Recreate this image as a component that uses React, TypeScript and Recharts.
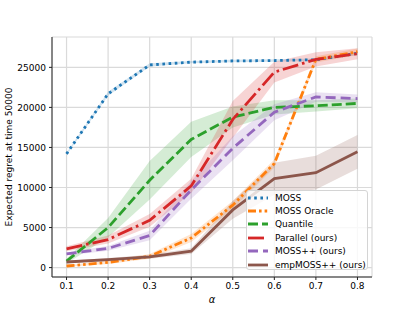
import {
  ComposedChart, Line, Area, XAxis, YAxis, CartesianGrid, Legend,
} from 'recharts';

const alphas = [0.1, 0.2, 0.3, 0.4, 0.5, 0.6, 0.7, 0.8];
const xTicks = [0.1, 0.2, 0.3, 0.4, 0.5, 0.6, 0.7, 0.8];
const yTicks = [0, 5000, 10000, 15000, 20000, 25000];

const moss = [14200, 21700, 25300, 25650, 25800, 25850, 25950, 26750];
const mossOracle = [200, 650, 1400, 3700, 7800, 13000, 26000, 26950];
const quantile = [800, 5000, 10900, 16000, 18800, 20000, 20200, 20500];
const parallel = [2350, 3500, 5900, 10200, 18500, 24400, 26000, 26700];
const mossPP = [1700, 2400, 4000, 9700, 14900, 19400, 21300, 21100];
const empMossPP = [700, 1000, 1350, 2050, 7200, 11100, 11850, 14450];

// half widths of the shaded regions
const mossBand = [150, 250, 200, 150, 150, 150, 150, 200];
const oracleBand = [100, 200, 300, 500, 500, 500, 400, 400];
const quantileBand = [300, 1200, 2400, 2200, 1300, 900, 700, 600];
const parallelBand = [300, 500, 800, 900, 2300, 1300, 900, 700];
const mossPPBand = [200, 300, 600, 1100, 1500, 1000, 600, 500];
const empBand = [150, 200, 250, 350, 1100, 2000, 2100, 2100];

const series = [
  { key: 'moss', name: 'MOSS', values: moss, band: mossBand, color: '#1f77b4', dash: '2.6 3.6' },
  { key: 'oracle', name: 'MOSS Oracle', values: mossOracle, band: oracleBand, color: '#ff7f0e', dash: '8 3 2.6 3 2.6 3' },
  { key: 'quantile', name: 'Quantile', values: quantile, band: quantileBand, color: '#2ca02c', dash: '10 4' },
  { key: 'parallel', name: 'Parallel (ours)', values: parallel, band: parallelBand, color: '#d62728', dash: '16 4 2.6 4' },
  { key: 'mosspp', name: 'MOSS++ (ours)', values: mossPP, band: mossPPBand, color: '#9467bd', dash: '10 5' },
  { key: 'emp', name: 'empMOSS++ (ours)', values: empMossPP, band: empBand, color: '#8c564b', dash: undefined },
];

const data = alphas.map((a, i) => {
  const row: Record<string, number | number[]> = { alpha: a };
  series.forEach((s) => {
    row[s.key] = s.values[i];
    row[s.key + 'Band'] = [s.values[i] - s.band[i], s.values[i] + s.band[i]];
  });
  return row;
});

const FONT = 'DejaVu Sans, sans-serif';

function LegendBox() {
  return (
    <div
      style={{
        width: 122, height: 80, background: 'rgba(255,255,255,0.8)',
        border: '1px solid #d4d4d4', borderRadius: 3, boxSizing: 'border-box',
        fontFamily: FONT, fontSize: 9, color: '#000',
      }}
    >
      {series.map((s) => (
        <div key={s.key} style={{ height: 13.4, display: 'flex', alignItems: 'center' }}>
          <svg width={28} height={8} style={{ flex: 'none' }}>
            <line
              x1={1} y1={4} x2={21} y2={4}
              stroke={s.color} strokeWidth={2.8} strokeDasharray={s.dash}
            />
          </svg>
          <span>{s.name}</span>
        </div>
      ))}
    </div>
  );
}

export default function App() {
  const tick = { fontSize: 9, fill: '#000', fontFamily: FONT };
  return (
    <div style={{ position: 'absolute', left: 0, top: 0, width: 415, height: 311, background: '#fff' }}>
      <ComposedChart
        width={415} height={311} data={data}
        margin={{ top: 37, right: 43, bottom: 0, left: 0 }}
      >
        <CartesianGrid stroke="#dadada" strokeWidth={1.2} />
        <XAxis
          dataKey="alpha" type="number" domain={[0.065, 0.835]} ticks={xTicks}
          tick={tick} tickSize={3} tickMargin={3} height={34}
          stroke="#222" tickFormatter={(v: number) => v.toFixed(1)}
          allowDataOverflow
        />
        <XAxis xAxisId="top" orientation="top" type="number" domain={[0.065, 0.835]}
          tick={false} tickLine={false} height={0} stroke="#222" />
        <YAxis
          type="number" domain={[-1175, 28790]} ticks={yTicks}
          tick={tick} tickSize={3} tickMargin={3} width={52} stroke="#222"
          allowDataOverflow
          label={() => (
            <text
              transform="translate(8.5,157) rotate(-90)" textAnchor="middle"
              dominantBaseline="central" fontSize={9} fontFamily={FONT} fill="#000"
            >
              Expected regret at time 50000
            </text>
          )}
        />
        <YAxis yAxisId="right" orientation="right" type="number" domain={[-1175, 28790]}
          tick={false} tickLine={false} width={0} stroke="#222" />
        {series.map((s) => (
          <Area
            key={s.key + 'Band'} dataKey={s.key + 'Band'} type="linear"
            stroke="none" fill={s.color} fillOpacity={0.2}
            isAnimationActive={false} legendType="none"
          />
        ))}
        {series.map((s) => (
          <Line
            key={s.key} dataKey={s.key} name={s.name} type="linear"
            stroke={s.color} strokeWidth={2.8} strokeDasharray={s.dash}
            dot={false} activeDot={false} isAnimationActive={false}
          />
        ))}
        <Legend
          layout="vertical" align="center" verticalAlign="middle"
          content={() => <LegendBox />}
          wrapperStyle={{ left: 246, top: 190, width: 122, height: 80 }}
        />
        <text x={212} y={299} textAnchor="middle" dominantBaseline="central"
          fontSize={10} fontStyle="italic" fontFamily={FONT} fill="#000">α</text>
      </ComposedChart>
    </div>
  );
}
